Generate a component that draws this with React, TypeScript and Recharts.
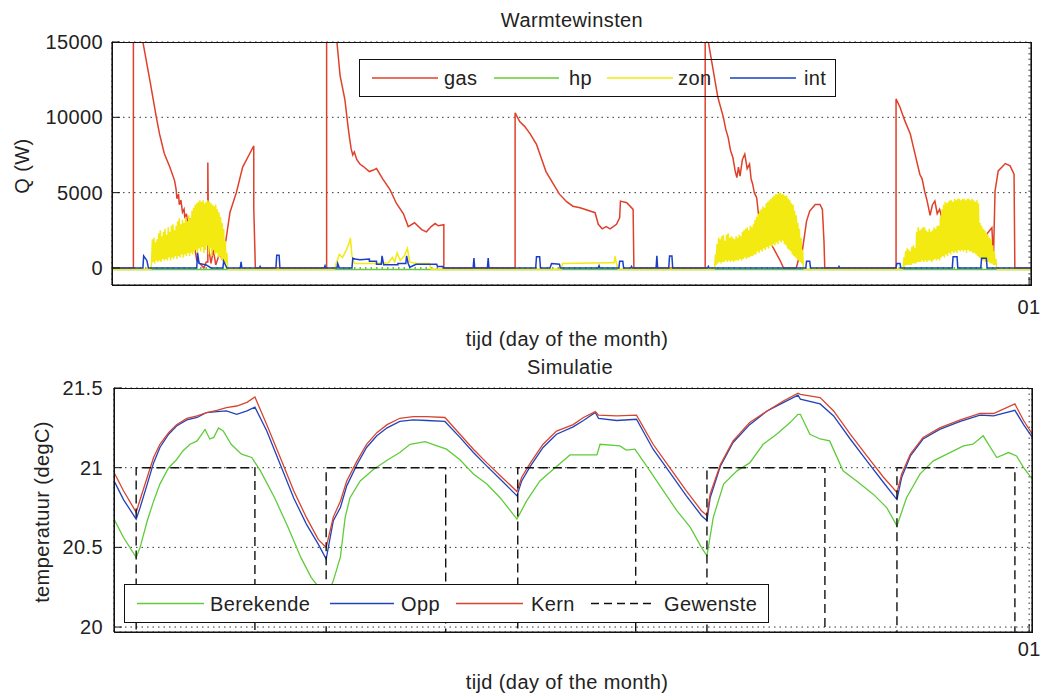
import React from 'react'
import { LineChart, Line, XAxis, YAxis, CartesianGrid } from 'recharts'

type Pt = [number, number]

// tijd in uren, tick "01" valt op 0.9
const dayTicks = [0.9]
const dayLabel = '01'
const qTicks = [0, 5000, 10000, 15000]
const tempTicks = [20, 20.5, 21, 21.5]

// Warmtewinsten (W)
const gas: Pt[] = [
  [-114.9, 0], [-112.2, 0], [-112.2, 22000], [-111.0, 15000], [-110.1, 12400], [-109.3, 10000],
  [-108.9, 8900], [-108.3, 7600], [-107.6, 6700], [-107.0, 5800], [-106.8, 5200], [-106.7, 4600],
  [-106.5, 4900], [-106.4, 4200], [-106.2, 4500], [-106.0, 3700], [-105.8, 3900], [-105.7, 3300],
  [-105.5, 3600], [-105.3, 2800], [-105.1, 3300], [-105.0, 2600], [-104.9, 3300], [-104.8, 2100],
  [-104.7, 3200], [-104.5, 1500], [-104.2, 500], [-103.8, 300], [-103.3, 0], [-103.0, 400],
  [-102.8, 400], [-102.8, 7000], [-102.7, 1300], [-102.4, 300], [-102.1, 1200], [-101.8, 200],
  [-101.3, 1000], [-101.0, 600], [-100.5, 1900], [-100.0, 3700], [-99.2, 5000], [-98.4, 6700],
  [-97.7, 7400], [-97.0, 8100], [-97.0, 4000], [-96.8, 0],
  [-87.8, 0], [-87.8, 22000], [-86.5, 15000], [-86.1, 12760], [-85.5, 11200], [-85.1, 9400],
  [-84.9, 8600], [-84.7, 7900], [-84.5, 7500], [-84.3, 7700], [-84.0, 7200], [-83.6, 6900],
  [-83.2, 6750], [-82.4, 6400], [-81.9, 6500], [-81.5, 6600], [-80.7, 5900], [-79.8, 5200],
  [-79.0, 4300], [-78.1, 3600], [-77.5, 2750], [-76.7, 3000], [-75.8, 2550], [-75.2, 2400],
  [-74.6, 2750], [-74.1, 2950], [-73.7, 2800], [-73.0, 2870], [-73.0, 0],
  [-64.0, 0], [-64.0, 10300], [-63.4, 9700], [-62.8, 9400], [-62.1, 8900], [-61.3, 8200],
  [-60.7, 7300], [-60.1, 6400], [-59.2, 5600], [-58.4, 4900], [-57.5, 4400], [-56.7, 4100],
  [-55.8, 4000], [-53.9, 3670], [-53.5, 2900], [-53.0, 2600], [-52.5, 2750], [-52.0, 2600],
  [-51.2, 2900], [-50.8, 3330], [-50.7, 4440], [-49.9, 4330], [-49.1, 3890], [-49.0, 0],
  [-40.0, 0], [-40.0, 22000], [-39.6, 15000], [-38.4, 11330], [-37.7, 10000], [-37.4, 9200],
  [-37.1, 8670], [-36.8, 7800], [-36.5, 7330], [-36.2, 6400], [-36.0, 6000], [-35.8, 6700],
  [-35.6, 6100], [-35.3, 7200], [-35.0, 7560], [-34.7, 6600], [-34.4, 6900], [-34.2, 5900],
  [-34.0, 5560], [-33.8, 5000], [-33.5, 4670], [-33.3, 3700], [-33.1, 3110], [-32.2, 2000],
  [-31.4, 1330], [-30.6, 560], [-30.1, 0],
  [-28.5, 0], [-28.2, 600], [-27.8, 900], [-27.5, 2000], [-27.2, 3110], [-26.8, 3780],
  [-26.1, 4220], [-25.5, 4220], [-25.2, 3890], [-25.0, 1780], [-24.9, 0],
  [-15.9, 0], [-15.9, 11220], [-15.4, 10670], [-14.8, 9780], [-14.1, 8890], [-13.5, 7560],
  [-12.9, 6220], [-12.6, 5900], [-12.3, 5110], [-12.0, 4500], [-11.8, 4000], [-11.6, 3500],
  [-11.3, 4200], [-11.0, 4440], [-10.7, 3600], [-10.4, 3900], [-10.0, 3100], [-9.5, 2780],
  [-9.2, 3400], [-8.9, 3780], [-8.5, 4100], [-8.2, 4220], [-7.8, 3300], [-7.4, 2890],
  [-7.0, 3500], [-6.6, 3800], [-6.1, 3000], [-5.7, 2440], [-5.3, 1500], [-4.9, 890],
  [-4.5, 2220], [-3.8, 2670], [-3.6, 670], [-3.4, 5110], [-3.0, 6440], [-2.1, 6930],
  [-1.5, 6780], [-1.0, 6220], [-0.9, 0], [1.3, 0],
]

const hp: Pt[] = [[-114.9, -100], [1.3, -100]]

// zon: zonnige dagen, bemonsterd per 0.1 uur
const zonStep = 0.1
const zonDag1Start = -109.9
const zonDag1 = [
  300, 1900, 400, 2000, 300, 1700, 500, 1900, 400, 2300, 500, 2500, 400, 2100, 600, 2400,
  500, 2600, 600, 2200, 500, 2700, 700, 2400, 500, 2800, 700, 2900, 600, 2500, 800, 2800,
  600, 3100, 800, 3300, 700, 2900, 900, 3200, 700, 3000, 900, 3400, 800, 3100, 1000, 3500,
  800, 3300, 1000, 3800, 900, 4000, 1100, 4200, 1200, 4300, 1000, 4400, 1300, 4500, 1100, 4400,
  1400, 4500, 1000, 4300, 1200, 4400, 1500, 4500, 900, 4400, 1300, 4300, 800, 4200, 1200, 4100,
  900, 4200, 1000, 3900, 700, 3700, 800, 3400, 600, 3000, 500, 2600, 400, 1800, 300, 1000, 0,
]
const zonDag4Start = -38.8
const zonDag4 = [
  0, 900, 200, 1600, 300, 2000, 400, 1900, 300, 2100, 400, 2200, 400, 1800, 500, 2200,
  400, 2300, 500, 2000, 400, 2100, 500, 2000, 400, 1900, 500, 2100, 500, 2000, 500, 2200,
  600, 2100, 500, 2400, 600, 2500, 700, 2600, 600, 2700, 700, 2500, 700, 2800, 800, 2700,
  800, 2900, 900, 3200, 900, 3400, 1100, 3600, 1000, 3800, 1200, 3900, 1100, 4100, 1300, 4000,
  1200, 4300, 1400, 4400, 1300, 4500, 1500, 4600, 1400, 4700, 1600, 4800, 1500, 4900, 1700, 4900,
  1600, 5000, 1800, 5000, 1700, 4900, 1800, 4900, 1600, 4800, 1500, 4800, 1300, 4600, 1200, 4500,
  1100, 4300, 900, 4200, 800, 3800, 700, 3500, 600, 3000, 500, 2600, 400, 2000, 300, 1200, 0,
]
const zonDag5Start = -15.0
const zonDag5 = [
  0, 700, 100, 1100, 200, 1300, 200, 1200, 200, 1100, 200, 1400, 300, 1500, 300, 1300,
  300, 2400, 400, 2700, 400, 2500, 400, 2600, 500, 2700, 400, 2700, 500, 2500, 400, 2400,
  500, 2600, 500, 2400, 400, 2500, 500, 2700, 600, 2600, 500, 2800, 600, 2800, 500, 3400,
  700, 3900, 800, 4200, 700, 4400, 900, 4300, 800, 4400, 1000, 4500, 900, 4500, 1100, 4400,
  1000, 4600, 1100, 4500, 1000, 4600, 1200, 4600, 1100, 4500, 1200, 4600, 1100, 4600, 1200, 4500,
  1000, 4600, 1200, 4600, 1100, 4500, 1100, 4600, 1000, 4500, 1000, 4400, 900, 4500, 800, 4300,
  700, 3000, 600, 2800, 500, 2600, 500, 2500, 400, 2300, 400, 2200, 400, 2000, 300, 1900,
  300, 1500, 200, 1100, 200, 600, 0,
]
const zonBewolkt: Pt[] = [
  [-86.8, -100], [-86.6, 300], [-86.2, 900], [-85.8, 700], [-85.3, 1200], [-85.0, 1600],
  [-84.8, 2000], [-84.6, 800], [-84.3, 300], [-82.0, 300], [-80.0, 350], [-79.5, 700],
  [-79.2, 400], [-78.9, 1000], [-78.5, 500], [-78.0, 800], [-77.6, 1300], [-77.3, 400],
  [-76.5, 300], [-74.8, 300], [-74.6, -100],
  [-58.2, -100], [-58.0, 300], [-52.0, 350], [-51.5, 350], [-51.4, 780], [-51.2, 300], [-51.0, -100],
]

const sampled = (start: number, vals: number[]): Pt[] =>
  vals.map((v, i) => [Math.round((start + i * zonStep) * 10) / 10, v] as Pt)

const zon: Pt[] = [
  [-114.9, -100], [-110.0, -100], ...sampled(zonDag1Start, zonDag1), [-100.2, -100],
  ...zonBewolkt,
  [-38.9, -100], ...sampled(zonDag4Start, zonDag4), [-27.5, -100],
  [-15.1, -100], ...sampled(zonDag5Start, zonDag5), [-3.1, -100], [1.3, -100],
]

const intern: Pt[] = [
  [-114.9, 0], [-111.0, 0], [-110.9, 800], [-110.5, 500], [-110.3, 0],
  [-104.2, 0], [-104.1, 1000], [-103.9, 300], [-103.0, 200], [-102.4, 0],
  [-100.9, 0], [-100.8, 450], [-100.4, 0], [-98.7, 0], [-98.6, 400], [-98.5, 0],
  [-96.3, 0], [-96.2, 100], [-96.1, 0], [-94.2, 0], [-94.1, 850], [-93.8, 850], [-93.7, 0],
  [-88.1, 0], [-88.0, 150], [-87.9, 0], [-86.5, 0], [-86.4, 300], [-86.2, 0],
  [-84.6, 0], [-84.5, 650], [-84.2, 600], [-83.6, 550], [-82.4, 600], [-82.4, 450],
  [-81.5, 450], [-81.5, 250], [-80.9, 250], [-80.8, 800], [-80.6, 220], [-78.8, 220],
  [-78.8, 300], [-77.8, 300], [-77.7, 800], [-77.5, 300], [-77.3, 50], [-76.5, 250],
  [-73.9, 250], [-73.8, 100], [-73.1, 100], [-73.0, 0],
  [-69.3, 0], [-69.2, 650], [-69.1, 0], [-67.5, 0], [-67.4, 650], [-67.3, 0],
  [-61.4, 0], [-61.3, 750], [-60.9, 750], [-60.8, 0], [-59.6, 0], [-59.4, 300], [-58.4, 250], [-58.3, 0],
  [-53.5, 0], [-53.4, 150], [-53.3, 0], [-50.9, 0], [-50.8, 450], [-50.4, 450], [-50.3, 0],
  [-49.4, 0], [-49.3, 100], [-49.2, 0], [-46.2, 0], [-46.1, 800], [-46.0, 0],
  [-44.6, 0], [-44.5, 800], [-44.2, 800], [-44.1, 0], [-39.7, 0], [-39.6, 100], [-39.5, 0],
  [-27.3, 0], [-27.2, 450], [-26.8, 450], [-26.7, 0], [-23.2, 0], [-23.1, 100], [-23.0, 0],
  [-15.9, 0], [-15.8, 300], [-15.4, 300], [-15.3, 0], [-8.8, 0], [-8.7, 750], [-8.2, 750], [-8.1, 0],
  [-5.2, 0], [-5.1, 650], [-4.5, 650], [-4.4, 0], [1.3, 0],
]

// Simulatie (degC)
const berekende: Pt[] = [
  [-114.8, 20.688], [-113.5, 20.562], [-111.9, 20.437], [-111.4, 20.5], [-110.5, 20.667],
  [-109.7, 20.79], [-108.9, 20.897], [-107.8, 21.0], [-106.8, 21.05], [-106.0, 21.105],
  [-105.1, 21.147], [-104.2, 21.168], [-103.2, 21.24], [-102.6, 21.18], [-102.1, 21.19],
  [-101.5, 21.25], [-100.9, 21.23], [-99.9, 21.147], [-98.6, 21.085], [-97.3, 21.064],
  [-96.2, 20.98], [-94.4, 20.81], [-92.7, 20.625], [-91.1, 20.437], [-89.8, 20.312],
  [-88.5, 20.228], [-87.9, 20.18], [-87.0, 20.29], [-86.1, 20.44], [-85.5, 20.688],
  [-84.9, 20.81], [-83.6, 20.917], [-81.9, 20.99], [-80.2, 21.047], [-78.6, 21.095],
  [-77.3, 21.147], [-75.4, 21.164], [-73.9, 21.137], [-72.7, 21.116], [-71.0, 21.05],
  [-69.3, 20.96], [-67.6, 20.897], [-65.9, 20.81], [-63.8, 20.677], [-62.6, 20.79],
  [-60.9, 20.917], [-59.2, 20.99], [-57.1, 21.08], [-53.7, 21.08], [-53.3, 21.147],
  [-50.8, 21.137], [-50.0, 21.11], [-48.9, 21.116], [-47.0, 20.98], [-45.3, 20.855],
  [-43.6, 20.73], [-41.9, 20.625], [-40.5, 20.5], [-39.8, 20.447], [-39.0, 20.688],
  [-37.7, 20.897], [-36.0, 20.98], [-34.4, 21.03], [-32.7, 21.147], [-31.0, 21.21],
  [-29.3, 21.283], [-28.3, 21.335], [-28.0, 21.335], [-26.8, 21.21], [-25.5, 21.18],
  [-24.3, 21.168], [-22.6, 20.98], [-20.9, 20.917], [-18.8, 20.834], [-17.1, 20.75],
  [-15.8, 20.635], [-14.6, 20.81], [-12.9, 20.96], [-11.2, 21.043], [-9.1, 21.095],
  [-7.4, 21.137], [-6.2, 21.147], [-4.9, 21.2], [-3.2, 21.064], [-1.7, 21.095],
  [-0.7, 21.074], [0.2, 21.0], [1.3, 20.928],
]

const opp: Pt[] = [
  [-114.8, 20.928], [-113.5, 20.8], [-111.9, 20.677], [-111.4, 20.75], [-110.5, 20.897],
  [-109.7, 21.03], [-108.9, 21.127], [-107.8, 21.21], [-106.8, 21.262], [-105.5, 21.3],
  [-104.2, 21.315], [-103.0, 21.346], [-101.7, 21.352], [-100.5, 21.356], [-99.2, 21.335],
  [-97.9, 21.356], [-96.9, 21.38], [-95.4, 21.23], [-93.7, 21.02], [-92.0, 20.81],
  [-90.4, 20.646], [-88.9, 20.52], [-87.9, 20.426], [-87.0, 20.667], [-86.1, 20.75],
  [-85.3, 20.886], [-84.0, 21.02], [-82.8, 21.127], [-81.5, 21.2], [-80.2, 21.25],
  [-78.6, 21.29], [-76.9, 21.3], [-75.2, 21.296], [-72.9, 21.29], [-71.0, 21.19],
  [-69.3, 21.095], [-67.6, 21.01], [-65.9, 20.928], [-63.8, 20.823], [-63.2, 20.917],
  [-62.1, 21.01], [-60.5, 21.127], [-58.8, 21.21], [-56.7, 21.256], [-55.4, 21.296],
  [-53.9, 21.346], [-53.5, 21.31], [-51.2, 21.296], [-48.7, 21.304], [-46.6, 21.116],
  [-44.5, 20.97], [-42.4, 20.823], [-40.5, 20.7], [-39.8, 20.667], [-39.4, 20.81],
  [-38.1, 21.01], [-36.5, 21.158], [-34.4, 21.27], [-32.2, 21.356], [-30.1, 21.41],
  [-28.3, 21.455], [-28.0, 21.43], [-25.5, 21.4], [-23.8, 21.325], [-21.7, 21.18],
  [-19.6, 21.043], [-17.5, 20.907], [-15.8, 20.8], [-15.2, 20.94], [-14.1, 21.074],
  [-12.5, 21.18], [-10.4, 21.24], [-7.8, 21.29], [-5.3, 21.33], [-3.6, 21.325],
  [-0.9, 21.36], [0.2, 21.27], [1.3, 21.19],
]

const kern: Pt[] = [
  [-114.8, 20.98], [-113.5, 20.855], [-111.9, 20.72], [-111.4, 20.8], [-110.5, 20.94],
  [-109.7, 21.064], [-108.9, 21.147], [-107.8, 21.22], [-106.8, 21.27], [-105.5, 21.31],
  [-104.2, 21.325], [-103.0, 21.346], [-101.7, 21.36], [-100.5, 21.377], [-99.2, 21.387],
  [-97.9, 21.41], [-96.9, 21.444], [-95.4, 21.27], [-93.7, 21.064], [-92.0, 20.855],
  [-90.4, 20.688], [-88.9, 20.55], [-87.9, 20.5], [-87.0, 20.69], [-86.1, 20.79],
  [-85.3, 20.917], [-84.0, 21.043], [-82.8, 21.147], [-81.5, 21.22], [-80.2, 21.27],
  [-78.6, 21.31], [-76.9, 21.32], [-75.2, 21.32], [-72.9, 21.315], [-71.0, 21.21],
  [-69.3, 21.116], [-67.6, 21.03], [-65.9, 20.95], [-63.8, 20.85], [-63.2, 20.94],
  [-62.1, 21.03], [-60.5, 21.147], [-58.8, 21.23], [-56.7, 21.27], [-55.4, 21.315],
  [-53.9, 21.352], [-53.5, 21.33], [-51.2, 21.325], [-48.7, 21.33], [-46.6, 21.147],
  [-44.5, 21.0], [-42.4, 20.855], [-40.5, 20.73], [-39.8, 20.7], [-39.4, 20.834],
  [-38.1, 21.02], [-36.5, 21.168], [-34.4, 21.283], [-32.2, 21.356], [-30.1, 21.42],
  [-28.3, 21.467], [-28.0, 21.46], [-25.5, 21.44], [-23.8, 21.356], [-21.7, 21.21],
  [-19.6, 21.074], [-17.5, 20.94], [-15.8, 20.845], [-15.2, 20.96], [-14.1, 21.085],
  [-12.5, 21.19], [-10.4, 21.25], [-7.8, 21.3], [-5.3, 21.34], [-3.6, 21.34],
  [-0.9, 21.4], [0.2, 21.296], [1.3, 21.21],
]

const gewenste: Pt[] = [
  [-114.8, 16], [-111.9, 16], [-111.9, 21], [-96.9, 21], [-96.9, 16], [-87.9, 16], [-87.9, 21],
  [-72.8, 21], [-72.8, 16], [-63.7, 16], [-63.7, 21], [-48.8, 21], [-48.8, 16], [-39.8, 16],
  [-39.8, 21], [-24.9, 21], [-24.9, 16], [-15.8, 16], [-15.8, 21], [-0.9, 21], [-0.9, 16], [1.3, 16],
]

const FONT = '"Liberation Sans", Arial, Helvetica, sans-serif'
const TXT = '#222'
const rows = (pts: Pt[]) => pts.map(([t, v]) => ({ t, v }))

const tickStyle = { fontSize: 20, fill: TXT, fontFamily: FONT, letterSpacing: 0.4 }

function Label({ x, y, text, rotate }: { x: number; y: number; text: string; rotate?: boolean }) {
  return (
    <div
      style={{
        position: 'absolute', left: x, top: y, whiteSpace: 'nowrap',
        transform: `translate(-50%, -50%)${rotate ? ' rotate(-90deg)' : ''}`,
        fontFamily: FONT, fontSize: 20, color: TXT, letterSpacing: 0.4, lineHeight: 1,
      }}
    >
      {text}
    </div>
  )
}

// kader rond het plotgebied (MATLAB "box on")
function Frame({ left, top, width, height }: { left: number; top: number; width: number; height: number }) {
  return (
    <div style={{
      position: 'absolute', left, top, width, height, boxSizing: 'border-box',
      border: '1.3px solid #111', pointerEvents: 'none',
    }} />
  )
}

interface LegItem { label: string; color: string; x1: number; x2: number; tx: number; dash?: string }

function LegendBox({ left, top, width, height, items, opaque }: {
  left: number; top: number; width: number; height: number; items: LegItem[]; opaque?: boolean
}) {
  const mid = height / 2 - 1
  return (
    <div style={{
      position: 'absolute', left, top, width, height, boxSizing: 'border-box',
      border: '1px solid #111', background: opaque ? '#fff' : 'transparent',
    }}>
      <svg width={width} height={height} style={{ position: 'absolute', left: 0, top: 0 }}>
        {items.map(it => (
          <line key={it.label} x1={it.x1} x2={it.x2} y1={mid} y2={mid}
            stroke={it.color} strokeWidth={1.4} strokeDasharray={it.dash} />
        ))}
      </svg>
      {items.map(it => (
        <span key={it.label} style={{
          position: 'absolute', left: it.tx, top: mid - 10, lineHeight: '20px',
          fontFamily: FONT, fontSize: 20, color: TXT, letterSpacing: 0.4, whiteSpace: 'nowrap',
        }}>{it.label}</span>
      ))}
    </div>
  )
}

const topLegend: LegItem[] = [
  { label: 'gas', color: '#e0402a', x1: 12, x2: 78, tx: 84 },
  { label: 'hp', color: '#66cc33', x1: 134, x2: 199, tx: 209 },
  { label: 'zon', color: '#f2ea10', x1: 247, x2: 313, tx: 318 },
  { label: 'int', color: '#1a3fc4', x1: 370, x2: 436, tx: 444 },
]

const bottomLegend: LegItem[] = [
  { label: 'Berekende', color: '#5fcc3a', x1: 12, x2: 79, tx: 85 },
  { label: 'Opp', color: '#2244bb', x1: 205, x2: 269, tx: 276 },
  { label: 'Kern', color: '#d8452f', x1: 331, x2: 398, tx: 406 },
  { label: 'Gewenste', color: '#111', x1: 466, x2: 529, tx: 539, dash: '8 5' },
]

const topDomain: [number, number] = [-114.9, 1.14]
const botDomain: [number, number] = [-114.7, 1.26]
const qDomain: [number, number] = [-1130, 15000]
const tempDomain: [number, number] = [19.969, 21.5]

export default function App() {
  const axisLine = { stroke: '#111', strokeWidth: 1.2 }
  const tickLine = { stroke: '#111' }
  return (
    <div style={{ position: 'absolute', left: 0, top: 0, width: 1041, height: 697, background: '#fff' }}>
      <div style={{ position: 'absolute', left: 0, top: 0 }}>
        <LineChart width={1041} height={330} margin={{ top: 42, right: 0, bottom: 15, left: 0 }}>
          <CartesianGrid stroke="#333" strokeDasharray="1.5 4" />
          <XAxis dataKey="t" type="number" domain={topDomain} allowDataOverflow ticks={dayTicks}
            tickFormatter={() => dayLabel} height={30} tickSize={-8} tickMargin={23}
            axisLine={axisLine} tickLine={tickLine} tick={tickStyle} />
          <YAxis type="number" domain={qDomain} allowDataOverflow ticks={qTicks} width={112}
            tickSize={-8} tickMargin={17} axisLine={axisLine} tickLine={tickLine} tick={tickStyle} />
          <YAxis yAxisId="right" orientation="right" type="number" domain={qDomain} allowDataOverflow
            ticks={qTicks} width={10} tickSize={-8} tick={false} axisLine={axisLine} tickLine={tickLine} />
          <Line data={rows(gas)} dataKey="v" type="linear" stroke="#e0402a" strokeWidth={1.5} dot={false} isAnimationActive={false} />
          <Line data={rows(hp)} dataKey="v" yAxisId="right" type="linear" stroke="#66cc33" strokeWidth={1.5} dot={false} isAnimationActive={false} />
          <Line data={rows(zon)} dataKey="v" type="linear" stroke="#f2ea10" strokeWidth={1.5} dot={false} isAnimationActive={false} />
          <Line data={rows(intern)} dataKey="v" type="linear" stroke="#1a3fc4" strokeWidth={1.5} dot={false} isAnimationActive={false} />
        </LineChart>
      </div>

      <div style={{ position: 'absolute', left: 0, top: 346 }}>
        <LineChart width={1041} height={330} margin={{ top: 42, right: 0, bottom: 14, left: 0 }}>
          <CartesianGrid stroke="#333" strokeDasharray="1.5 4" />
          <XAxis dataKey="t" type="number" domain={botDomain} allowDataOverflow ticks={dayTicks}
            tickFormatter={() => dayLabel} height={30} tickSize={-8} tickMargin={18}
            axisLine={axisLine} tickLine={tickLine} tick={tickStyle} />
          <YAxis type="number" domain={tempDomain} allowDataOverflow ticks={tempTicks} width={114}
            tickSize={-8} tickMargin={19} axisLine={axisLine} tickLine={tickLine} tick={tickStyle} />
          <YAxis yAxisId="right" orientation="right" type="number" domain={tempDomain} allowDataOverflow
            ticks={tempTicks} width={9} tickSize={-8} tick={false} axisLine={axisLine} tickLine={tickLine} />
          <Line data={rows(berekende)} dataKey="v" type="linear" stroke="#5fcc3a" strokeWidth={1.3} dot={false} isAnimationActive={false} />
          <Line data={rows(opp)} dataKey="v" type="linear" stroke="#2244bb" strokeWidth={1.3} dot={false} isAnimationActive={false} />
          <Line data={rows(kern)} dataKey="v" type="linear" stroke="#d8452f" strokeWidth={1.3} dot={false} isAnimationActive={false} />
          <Line data={rows(gewenste)} dataKey="v" yAxisId="right" type="linear" stroke="#111" strokeWidth={1.4} strokeDasharray="9 5" dot={false} isAnimationActive={false} />
        </LineChart>
      </div>

      <Frame left={112} top={42} width={920} height={244} />
      <Frame left={114} top={388} width={919} height={245} />

      <Label x={572} y={20} text="Warmtewinsten" />
      <Label x={567} y={339} text="tijd (day of the month)" />
      <Label x={22} y={166} text="Q (W)" rotate />
      <Label x={570} y={367} text="Simulatie" />
      <Label x={567} y={682} text="tijd (day of the month)" />
      <Label x={42} y={512} text="temperatuur (degC)" rotate />

      <LegendBox left={359} top={59} width={477} height={38} items={topLegend} />
      <LegendBox left={124} top={584} width={645} height={39} items={bottomLegend} opaque />
    </div>
  )
}
